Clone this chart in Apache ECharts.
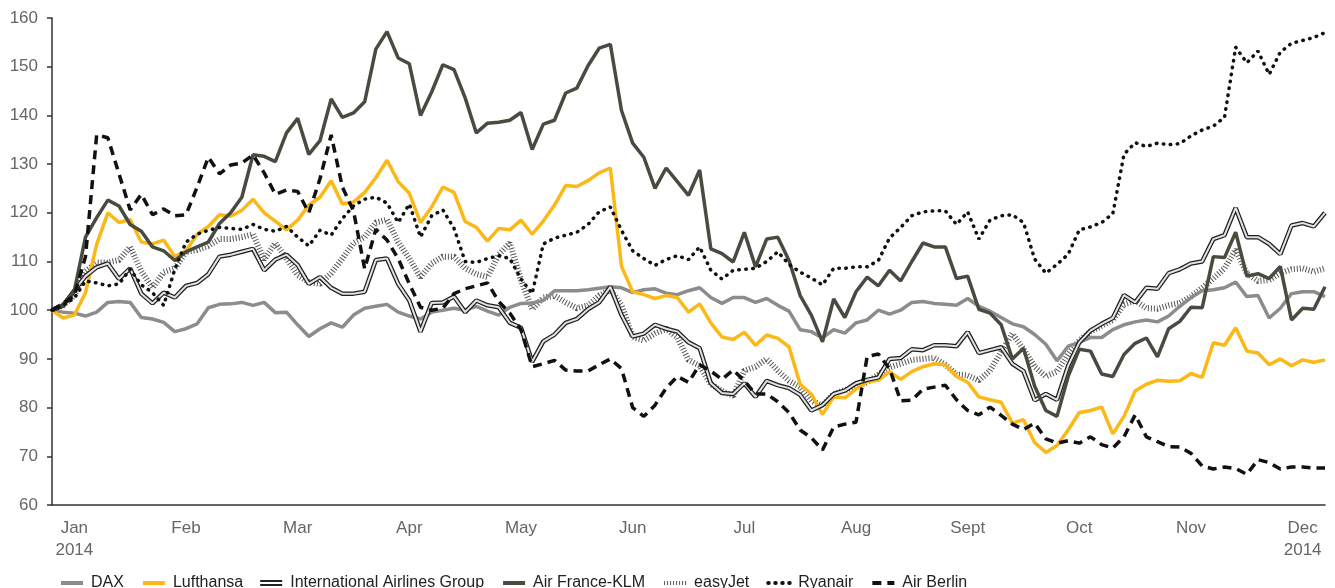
<!DOCTYPE html>
<html>
<head>
<meta charset="utf-8">
<script src="https://cdn.jsdelivr.net/npm/echarts@6/dist/echarts.min.js"></script>
<style>
  html, body { margin: 0; padding: 0; background: #fff; }
  #chart { width: 1335px; height: 588px; }
</style>
</head>
<body>
<div id="chart"></div>
<script>
// month labels sit on every 10th point, starting at index 2
const monthLabels = ['Jan\n2014', 'Feb', 'Mar', 'Apr', 'May', 'Jun', 'Jul', 'Aug', 'Sept', 'Oct', 'Nov', 'Dec\n2014']
const labelStart = 2
const labelStep = 10

const dax = [100,99.6,99.4,98.8,99.6,101.6,101.8,101.6,98.5,98.2, 97.5,95.6,96.2,97.2,100.5,101.2,101.3,101.6,101,101.6,
  99.5,99.6,97,94.6,96.2,97.4,96.5,99,100.4,100.8, 101.2,99.6,98.8,98.2,99.6,100,100.4,100,100.8,99.8,
  99,100.6,101.4,101.5,102,104,104,104,104.2,104.5, 104.8,104.6,103.6,104.2,104.4,103.5,103.2,104,104.6,102.6,
  101.4,102.6,102.6,101.6,102.4,101,99.8,96,95.6,94.3, 96,95.3,97.4,98,100,99.2,100,101.6,101.8,101.4,
  101.2,101,102.4,100.8,99.8,98.5,97.2,96.6,95,93, 89.6,92.6,93.4,94.4,94.4,96,97,97.6,98,97.6,
  98.8,100.8,102.6,104,104.2,104.6,105.8,102.8,103,98.4, 100.4,103.4,103.8,103.8,102.8]

const lufthansa = [100,98.4,99,103.6,113.5,120,118,118.6,114,113.6, 114.4,111,112.2,115.6,117.2,119.6,119.3,120.5,122.8,120,
  118.3,116.5,118.5,121.6,123.2,126.6,121.8,122.2,124.2,127.2, 130.8,126.4,124,118,121.2,125.3,124.2,118.2,117,114.2,
  116.8,116.5,118.5,115.6,118.3,121.6,125.6,125.4,126.6,128.2, 129.2,109,103.8,103.2,102.4,103,102.6,99.6,101.3,97.4,
  94.5,94,95.5,92.8,94.9,94.2,92.5,84.8,82.8,78.6, 82.2,82,83.8,85.3,85.6,87.4,85.8,87.4,88.4,89,
  88.8,86.4,85.2,82.2,81.6,81.1,76.8,77.5,72.8,70.8, 72.2,75.4,79,79.4,80.1,74.6,78.2,83.4,84.8,85.6,
  85.4,85.5,87,86.2,93.3,92.8,96.4,91.6,91.2,88.8, 90,88.6,89.8,89.3,89.8]

const iag = [100,101,104,107,108.8,109.6,106.4,108.6,103.4,101.4, 103.6,102.6,105,105.6,107.4,111,111.4,112,112.6,108.2,
  110.4,111.4,109.3,105.4,106.8,104.6,103.4,103.4,103.8,110.3, 110.6,105.4,102,95.6,101.5,101.6,102.8,99.6,102,101,
  100.6,97.4,96.4,89.4,93.6,95,97.4,98.2,100.2,101.6, 104.8,99,94.6,95.2,97,96.2,95.6,93.4,92.2,85,
  83,82.8,85,82.2,85.5,84.6,84,82.6,79.4,80.5, 82.8,83.5,85,85.7,86.2,90,90.2,92,91.8,92.8,
  92.8,92.6,95.5,91.2,91.8,92.4,89,87.5,81.5,82.8, 81.6,88.6,93.4,95.8,97.2,98.4,103.1,101.6,104.6,104.4,
  107.6,108.4,109.6,110,114.6,115.4,121,115,115,113.6, 111.5,117.4,117.9,117.2,120]

const afklm = [100,101,104,115,119,122.6,121.4,117.6,116.2,113, 112.2,110.2,112,113,114,117.8,120,123.2,131.9,131.6,
  130.5,136.4,139.4,132,134.8,143.4,139.6,140.5,142.8,153.6, 157.2,151.8,150.6,140,144.8,150.4,149.4,143.6,136.4,138.4,
  138.6,139,140.6,133,138.2,139,144.6,145.6,150.2,153.8, 154.6,141,134.3,131.4,125,129.2,126.4,123.6,128.8,112.6,
  111.6,109.9,116,108.9,114.6,115,110.2,103,99,93.5, 102.3,98.5,103.8,106.8,105,108.2,106,110,113.8,113,
  113,106.5,107,100.2,99.4,97,90,92.2,84.4,79.4, 78.2,86.4,92,91.6,86.9,86.4,90.9,93.2,94.3,90.4,
  96.2,97.7,100.6,100.5,111,110.8,116,107,107.5,106.5, 109,98,100.4,100.2,104.8]

const easyjet = [100,101,103,108,109.8,109.8,110.3,113,108,104.6, 107.8,108.6,112,112.4,113.2,114.6,114.6,115,115.6,110.4,
  113.8,110.6,107.2,105.8,105.4,107.6,110.6,113.8,115,118, 118.6,114,110.6,106.8,109.6,111,111,108.6,107.4,106.8,
  111.4,113.8,106.2,100.2,102.6,103,101.6,100.4,101,103, 104.2,101,94.5,93.8,95.2,96.2,94.4,89.8,88.6,84.8,
  83.4,82.4,87.6,88.4,90,87.6,85.5,84.2,81.4,80.4, 82.8,83.6,84.3,85.2,86.8,88.3,89,89.8,90,90.2,
  88.8,86.8,86.6,85.6,87.6,91.4,95.2,92,88.4,86.4, 87.4,91,93.8,95.6,96.8,98,101.2,102,100.4,100.3,
  101,101.5,102.8,104.6,106.5,108.6,112.4,107.6,106,106.2, 107.6,108.4,108.6,107.9,108.6]

const ryanair = [100,101,102.5,106,105.6,105,105.4,108.4,105.2,103.6, 101,108.4,114,115.6,116.4,117,116.8,116.6,117.6,116.6,
  116.2,117.2,115,113.2,116.4,115.4,118.8,121.4,122.8,123.2, 122,118,121.8,115,119.4,120.6,116.8,110,109.8,110.6,
  111.2,110.6,106.4,103.4,113.6,114.8,115.4,116,117.6,120.2, 121.2,116.4,112.2,110.6,109.2,110.4,111.2,110.4,113,108.2,
  106.4,108.2,108.4,108.6,110,112,109.4,107.8,106.6,105.2, 108.6,108.6,108.9,108.9,110.2,114.8,117,119.4,120.2,120.4,
  120.4,117.6,120.2,114.6,118.5,119.4,119.6,118,110.5,107.6, 109.4,111.5,116.5,117.1,118,119.8,132,134.4,133.6,134.3,
  134,134.2,135.8,137,137.8,139.6,154,150.8,153.2,148.4, 153,154.8,155.4,156,157]

const airberlin = [100,101.4,103,111,136,135.4,128,120.6,123.8,119.6, 120.8,119.4,119.6,125.3,131.4,128,129.8,130.2,131.9,128.2,
  123.8,124.7,124.4,120,127,136,125.3,120.4,108.5,116.6, 114.4,110.6,105.4,100.6,100,100.4,103.4,104.4,105,105.6,
  101.8,99.4,96,88.4,89,89.7,87.7,87.5,87.5,88.8, 90,88,80,78.2,80.5,84,86.4,85.2,88.8,87.5,
  85.8,87.7,85.5,82.8,82.8,81.2,79,75.4,73.8,71.3, 76,76.6,77,90.5,91,88,81.4,81.5,83.8,84.2,
  84.6,81.6,79.4,78.5,80.1,78.4,76.6,75.5,76.8,73.6, 72.7,73.2,72.7,74,72.4,71.7,74,78.5,74,73,
  72,71.9,70.6,68,67.4,67.8,67.5,66.3,69.3,68.7, 67.4,67.8,67.8,67.6,67.6]

const categories = dax.map((_, i) =>
  i >= labelStart && (i - labelStart) % labelStep === 0 ? monthLabels[(i - labelStart) / labelStep] || '' : '')

const font = 'Liberation Sans, Arial, sans-serif'
const chart = echarts.init(document.getElementById('chart'), null, { renderer: 'canvas' })

function line(name, data, lineStyle, z) {
  return {
    name, type: 'line', data, symbol: 'none', z, lineStyle,
    itemStyle: { color: lineStyle.color },
    emphasis: { disabled: true },
  }
}

chart.setOption({
  animation: false,
  backgroundColor: '#fff',
  grid: { left: 52, right: 10, top: 18, bottom: 83 },
  legend: {
    left: 54,
    top: 570,
    itemWidth: 22,
    itemHeight: 6,
    itemGap: 17,
    itemStyle: { opacity: 0 },
    lineStyle: { width: 4 },
    textStyle: { fontFamily: font, fontSize: 16, color: '#222', padding: [0, 0, 0, 3] },
    data: [
      { name: 'DAX' },
      { name: 'Lufthansa' },
      { name: 'International Airlines Group', icon: 'path://M0,0H22V2H0ZM0,4H22V6H0Z', itemStyle: { color: '#222', opacity: 1 } },
      { name: 'Air France-KLM' },
      { name: 'easyJet' },
      { name: 'Ryanair' },
      { name: 'Air Berlin' },
    ],
  },
  xAxis: {
    type: 'category',
    data: categories,
    boundaryGap: false,
    axisLine: { lineStyle: { color: '#333', width: 1.5 } },
    axisTick: { show: false },
    axisLabel: { interval: 0, margin: 12, color: '#666', fontFamily: font, fontSize: 17, lineHeight: 22 },
  },
  yAxis: {
    type: 'value',
    min: 60,
    max: 160,
    interval: 10,
    splitLine: { show: false },
    axisLine: { show: true, lineStyle: { color: '#333', width: 1.5 } },
    axisTick: { show: true, length: 5, lineStyle: { color: '#333', width: 1.5 } },
    axisLabel: { margin: 14, color: '#666', fontFamily: font, fontSize: 17 },
  },
  series: [
    line('DAX', dax, { color: '#8c8c8c', width: 3.5 }, 2),
    line('Lufthansa', lufthansa, { color: '#fbb817', width: 3.5 }, 3),
    line('International Airlines Group', iag, { color: '#1e1e1e', width: 4.5 }, 4),
    line('IAG inner', iag, { color: '#e2e2e2', width: 2 }, 5),
    line('Air France-KLM', afklm, { color: '#484c40', width: 3.5 }, 6),
    line('easyJet', easyjet, { color: '#555', width: 6, type: [1, 2] }, 1),
    line('Ryanair', ryanair, { color: '#111', width: 3.5, type: [0.5, 6.5], cap: 'round' }, 7),
    line('Air Berlin', airberlin, { color: '#111', width: 3.5, type: [9, 6] }, 8),
  ],
})
</script>
</body>
</html>
